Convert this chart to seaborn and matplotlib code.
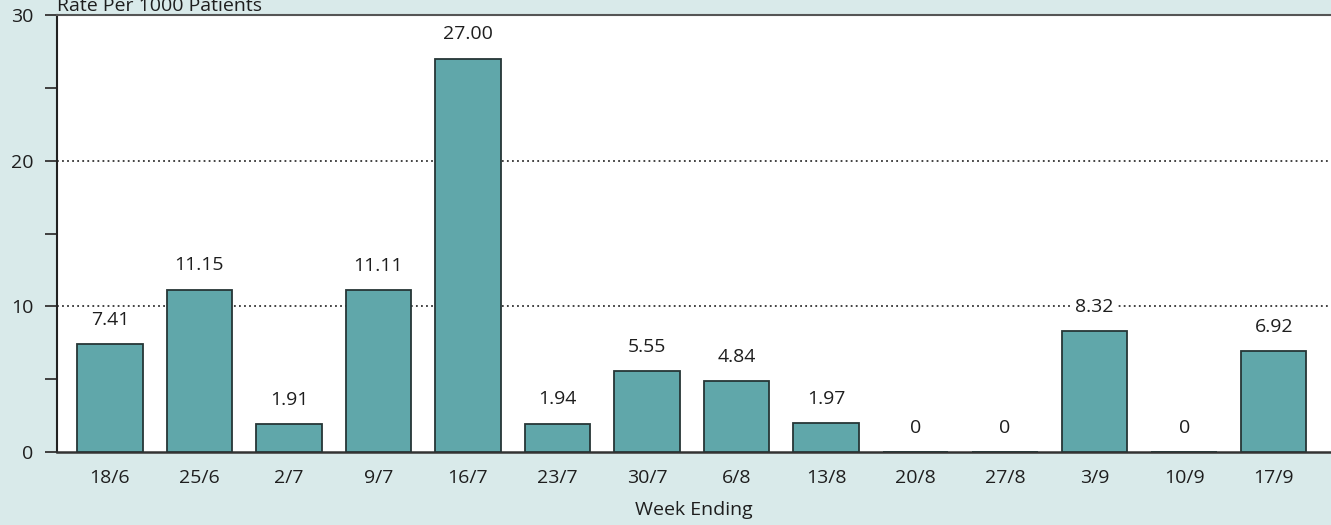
import matplotlib
matplotlib.use("Agg")
import matplotlib.pyplot as plt
import seaborn as sns
import pandas as pd
from matplotlib.ticker import MultipleLocator

# Weekly rates per 1000 patients
weeks = ["18/6", "25/6", "2/7", "9/7", "16/7", "23/7", "30/7",
         "6/8", "13/8", "20/8", "27/8", "3/9", "10/9", "17/9"]
rates = [7.41, 11.15, 1.91, 11.11, 27.00, 1.94, 5.55,
         4.84, 1.97, 0, 0, 8.32, 0, 6.92]

df = pd.DataFrame({"week": weeks, "rate": rates})

sns.set_theme(style="white")
plt.rcParams["font.family"] = ["Open Sans", "DejaVu Sans"]

bg = "#d9eaea"
bar_color = "#60a7aa"
edge_color = "#263636"
text_color = "#1e1e1e"
fs = 14

fig = plt.figure(figsize=(13.31, 5.25), dpi=100, facecolor=bg)
ax = fig.add_axes([57 / 1331, (525 - 452) / 525, (1331 - 57) / 1331, (452 - 15) / 525])
ax.set_facecolor("white")

sns.barplot(data=df, x="week", y="rate", color=bar_color, saturation=1,
            edgecolor=edge_color, linewidth=1.3, width=0.73, ax=ax, zorder=3)

ax.set_ylim(0, 30)
ax.set_xlim(-0.59, 13.64)
ax.yaxis.set_major_locator(MultipleLocator(10))
ax.yaxis.set_minor_locator(MultipleLocator(5))

# dotted reference lines at 10 and 20
for y in (10, 20):
    ax.axhline(y, color="#333333", linestyle=(0, (1, 1.8)), linewidth=1.3, zorder=1)

labels = ["0" if v == 0 else f"{v:.2f}" for v in rates]
ax.bar_label(ax.containers[0], labels=labels, padding=11, fontsize=fs,
             color=text_color,
             bbox=dict(facecolor="white", edgecolor="none", pad=2), zorder=4)

ax.spines["right"].set_visible(False)
ax.spines["top"].set_color("#555555")
ax.spines["top"].set_linewidth(1.5)
ax.spines["left"].set_color("#222222")
ax.spines["left"].set_linewidth(1.5)
ax.spines["bottom"].set_color("#333333")
ax.spines["bottom"].set_linewidth(1.8)

ax.tick_params(axis="y", which="both", direction="out", length=9, width=1.3,
               color="#333333", left=True, labelsize=fs, labelcolor=text_color, pad=8)
ax.tick_params(axis="x", length=0, labelsize=fs, labelcolor=text_color, pad=12)

ax.set_xlabel("Week Ending", fontsize=fs, color=text_color, labelpad=10)
ax.set_ylabel("")
ax.text(0, 1.0, "Rate Per 1000 Patients", transform=ax.transAxes,
        fontsize=fs, color=text_color, ha="left", va="bottom")

fig.savefig("out.png", dpi=100, facecolor=bg)
